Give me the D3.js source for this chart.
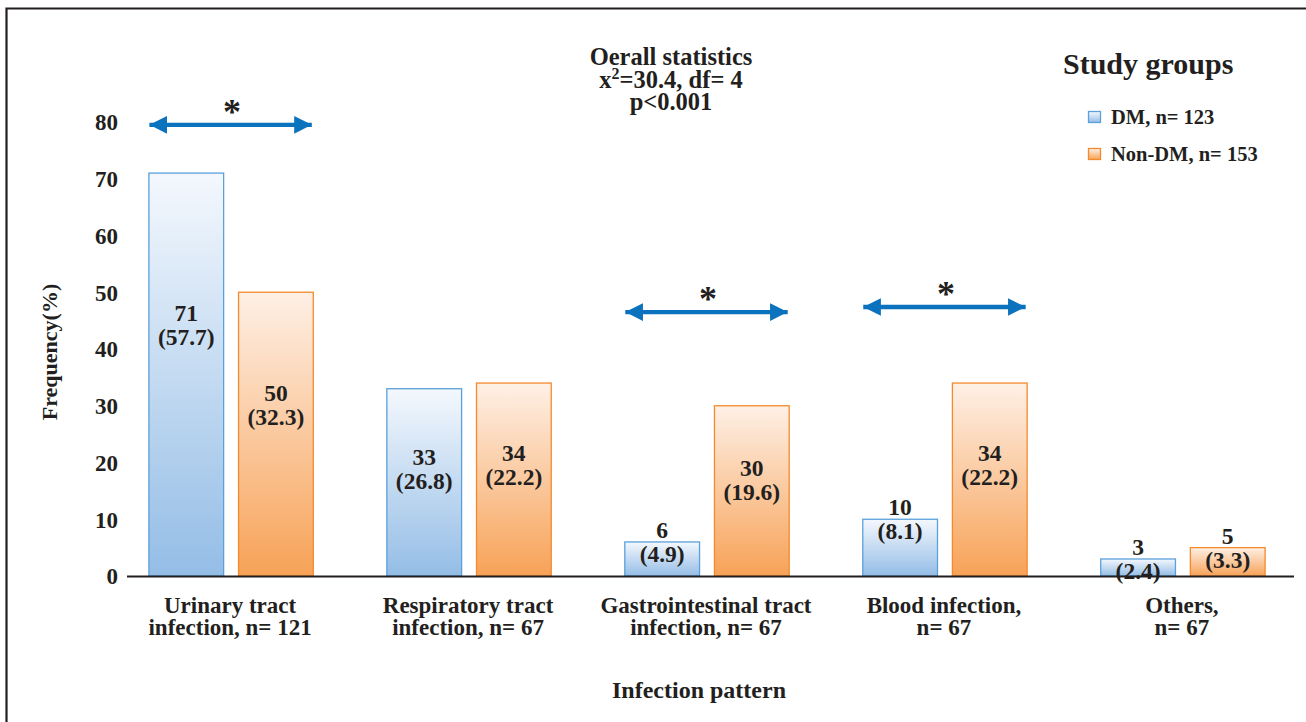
<!DOCTYPE html>
<html>
<head>
<meta charset="utf-8">
<script src="https://cdn.jsdelivr.net/npm/d3@7"></script>
<style>
  html, body { margin: 0; padding: 0; background: #fff; }
  svg { display: block; }
  text { font-family: "Liberation Serif", "Times New Roman", serif; font-weight: bold; fill: #231f20; }
</style>
</head>
<body>
<svg id="chart" width="1306" height="722"></svg>
<script>
// ---- data ----
const categories = [
  ["Urinary tract", "infection, n= 121"],
  ["Respiratory tract", "infection, n= 67"],
  ["Gastrointestinal tract", "infection, n= 67"],
  ["Blood infection,", "n= 67"],
  ["Others,", "n= 67"]
];
const seriesNames = ["DM, n= 123", "Non-DM, n= 153"];
const dmCounts = [71, 33, 6, 10, 3];
const dmPercents = ["57.7", "26.8", "4.9", "8.1", "2.4"];
const nonDmCounts = [50, 34, 30, 34, 5];
const nonDmPercents = ["32.3", "22.2", "19.6", "22.2", "3.3"];
const yTicks = [0, 10, 20, 30, 40, 50, 60, 70, 80];
const sigLevels = [79.5, null, 46.5, 47.4, null]; // significance arrows (in % units)
const statsLines = ["Oerall statistics", "x²=30.4, df= 4", "p<0.001"];

// ---- layout ----
const svg = d3.select("#chart");
const W = 1306, H = 722;

const y = d3.scaleLinear().domain([0, 80]).range([576, 122]);
const x0 = d3.scaleBand().domain(d3.range(categories.length)).range([112, 1302]).paddingInner(0.305).paddingOuter(0.153);
const x1 = d3.scaleBand().domain([0, 1]).range([0, x0.bandwidth()]).paddingInner(0.155);

// frame
svg.append("path").attr("d", `M6.5,${H} L6.5,8.5 L${W},8.5`).attr("fill", "none").attr("stroke", "#231f20").attr("stroke-width", 2.2);

// gradients
const defs = svg.append("defs");
const grads = [
  { id: "gDM", top: "#f4f8fd", bot: "#94bde6", stroke: "#5aa0db" },
  { id: "gNon", top: "#fef0e6", bot: "#f7a257", stroke: "#f48a2c" }
];
grads.forEach(g => {
  const lg = defs.append("linearGradient").attr("id", g.id).attr("x1", 0).attr("y1", 0).attr("x2", 0).attr("y2", 1);
  lg.append("stop").attr("offset", "0%").attr("stop-color", g.top);
  lg.append("stop").attr("offset", "100%").attr("stop-color", g.bot);
});
const mk = defs.append("marker").attr("id", "ah").attr("viewBox", "0 0 10 10").attr("refX", 10).attr("refY", 5)
  .attr("markerWidth", 4).attr("markerHeight", 4).attr("orient", "auto-start-reverse").attr("markerUnits", "strokeWidth");
mk.append("path").attr("d", "M0,0 L10,5 L0,10 Z").attr("fill", "#0b72bd");

// y axis ticks (labels only)
const yAxis = d3.axisLeft(y).tickValues(yTicks).tickSize(0).tickPadding(0);
const yg = svg.append("g").attr("transform", "translate(118,0)").call(yAxis);
yg.select(".domain").remove();
yg.selectAll("text").attr("font-size", 23).attr("font-family", "Liberation Serif, serif").attr("font-weight", "bold").attr("fill", "#231f20").attr("dy", "0.34em");

// bars
const rows = categories.map((c, i) => ({
  i,
  vals: [
    { s: 0, count: dmCounts[i], pct: dmPercents[i] },
    { s: 1, count: nonDmCounts[i], pct: nonDmPercents[i] }
  ]
}));
const groups = svg.append("g").selectAll("g").data(rows).join("g")
  .attr("transform", d => `translate(${x0(d.i)},0)`);
groups.selectAll("rect").data(d => d.vals).join("rect")
  .attr("x", d => x1(d.s) + 0.5)
  .attr("y", d => y(d.count))
  .attr("width", x1.bandwidth() - 1)
  .attr("height", d => y(0) - y(d.count))
  .attr("fill", d => `url(#${grads[d.s].id})`)
  .attr("stroke", d => grads[d.s].stroke)
  .attr("stroke-width", 1.3);

// value labels
groups.selectAll("text.val").data(d => d.vals).join("text")
  .attr("class", "val")
  .attr("text-anchor", "middle")
  .attr("font-size", 23.5)
  .attr("x", d => x1(d.s) + x1.bandwidth() / 2)
  .attr("y", d => {
    const c = d.count < 15 ? d.count : d.count * 0.666 - 3.1;
    return y(c);
  })
  .each(function (d) {
    const t = d3.select(this);
    t.append("tspan").attr("x", t.attr("x")).attr("dy", "-0.17em").text(d.count);
    t.append("tspan").attr("x", t.attr("x")).attr("dy", "1.02em").text(`(${d.pct})`);
  });

// x axis line
svg.append("line").attr("x1", 127).attr("x2", 1294).attr("y1", y(0) + 0.5).attr("y2", y(0) + 0.5)
  .attr("stroke", "#231f20").attr("stroke-width", 2.2);

// category labels
svg.append("g").selectAll("text").data(categories).join("text")
  .attr("text-anchor", "middle").attr("font-size", 23)
  .attr("x", (d, i) => x0(i) + x0.bandwidth() / 2 - 1)
  .attr("y", 613)
  .each(function (d) {
    const t = d3.select(this);
    d.forEach((ln, k) => t.append("tspan").attr("x", t.attr("x")).attr("dy", k === 0 ? 0 : "0.96em").text(ln));
  });

// significance arrows
const sig = rows.filter(r => sigLevels[r.i] !== null);
const sg = svg.append("g");
sig.forEach(r => {
  const xa = x0(r.i) + 1, xb = x0(r.i) + x0.bandwidth() - 2;
  const yy = y(sigLevels[r.i]);
  sg.append("line").attr("x1", xa).attr("x2", xb).attr("y1", yy).attr("y2", yy)
    .attr("stroke", "#0b72bd").attr("stroke-width", 4.4)
    .attr("marker-start", "url(#ah)").attr("marker-end", "url(#ah)");
  sg.append("text").attr("text-anchor", "middle").attr("font-size", 36).attr("font-weight", "normal")
    .attr("x", x0(r.i) + x0.bandwidth() / 2 + 1).attr("y", yy + 6).text("*")
    .attr("font-family", "DejaVu Sans, sans-serif").attr("fill", "#231f20").attr("dy", "-0.2em");
});

// overall statistics
const sx = 671;
svg.append("text").attr("text-anchor", "middle").attr("font-size", 24.5).attr("x", sx).attr("y", 65).text(statsLines[0]);
const l2 = svg.append("text").attr("text-anchor", "middle").attr("font-size", 24.5).attr("x", sx).attr("y", 88);
l2.append("tspan").text("x");
l2.append("tspan").attr("font-size", 16).attr("dy", "-0.55em").text("2");
l2.append("tspan").attr("dy", "0.36em").text("=30.4, df= 4");
svg.append("text").attr("text-anchor", "middle").attr("font-size", 24.5).attr("x", sx).attr("y", 110).text(statsLines[2]);

// legend
svg.append("text").attr("x", 1063).attr("y", 74).attr("font-size", 30).text("Study groups");
const lg = svg.append("g").selectAll("g").data(seriesNames).join("g")
  .attr("transform", (d, i) => `translate(1088.5,${111.5 + i * 37})`);
lg.append("rect").attr("width", 12).attr("height", 11)
  .attr("fill", (d, i) => `url(#${grads[i].id})`).attr("stroke", (d, i) => grads[i].stroke).attr("stroke-width", 1.3);
lg.append("text").attr("x", 22.5).attr("y", 12).attr("font-size", 20.5).text(d => d);

// axis titles
svg.append("text").attr("text-anchor", "middle").attr("font-size", 22)
  .attr("transform", "translate(57,352) rotate(-90)").text("Frequency(%)");
svg.append("text").attr("text-anchor", "middle").attr("font-size", 24)
  .attr("x", 699).attr("y", 698).text("Infection pattern");
</script>
</body>
</html>
